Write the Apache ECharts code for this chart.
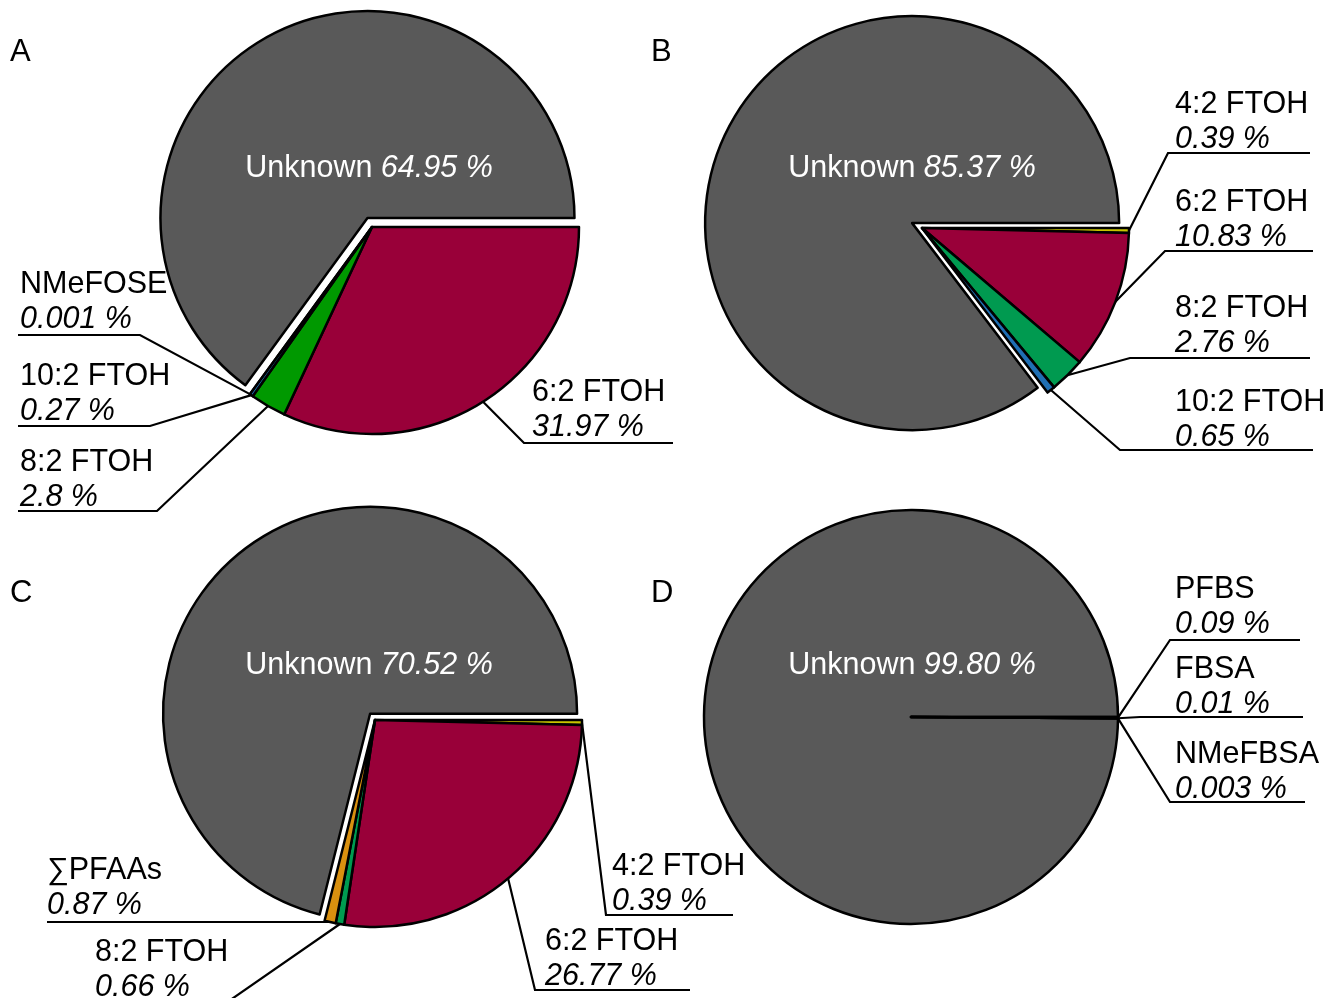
<!DOCTYPE html>
<html>
<head>
<meta charset="utf-8">
<script src="https://cdn.jsdelivr.net/npm/echarts@6/dist/echarts.min.js"></script>
<style>
  html, body { margin: 0; padding: 0; background: #fff; }
  #chart { width: 1330px; height: 998px; }
</style>
</head>
<body>
<div id="chart"></div>
<script>
// A
var namesA = ['6:2 FTOH', '8:2 FTOH', '10:2 FTOH', 'NMeFOSE', 'Unknown'];
var valuesA = [31.97, 2.8, 0.27, 0.001, 64.95];
var digitsA = [2, 1, 2, 3, 2];
// B
var namesB = ['4:2 FTOH', '6:2 FTOH', '8:2 FTOH', '10:2 FTOH', 'Unknown'];
var valuesB = [0.39, 10.83, 2.76, 0.65, 85.37];
var digitsB = [2, 2, 2, 2, 2];
// C
var namesC = ['4:2 FTOH', '6:2 FTOH', '8:2 FTOH', '∑PFAAs', 'Unknown'];
var valuesC = [0.39, 26.77, 0.66, 0.87, 70.52];
var digitsC = [2, 2, 2, 2, 2];
// D
var namesD = ['PFBS', 'FBSA', 'NMeFBSA', 'Unknown'];
var valuesD = [0.09, 0.01, 0.003, 99.80];
var digitsD = [2, 2, 3, 2];

var colorOf = {
  'Unknown': '#595959',
  '4:2 FTOH': '#c8c400',
  '6:2 FTOH': '#990039',
  '8:2 FTOH': '#009a50',
  '10:2 FTOH': '#1f6fb4',
  'NMeFOSE': '#303030',
  '∑PFAAs': '#d9900f',
  'PFBS': '#000',
  'FBSA': '#000',
  'NMeFBSA': '#000'
};

var font = 'Liberation Sans, Arial, sans-serif';
var fs = 30.5;

// label boxes: [textX, textY, lineX0, lineY, lineX1]
var boxesA = [[532, 375, 524, 443, 673], [20, 445, 157, 511, 18], [20, 359, 150, 426, 18], [20, 267, 140, 335, 18]];
var boxesB = [[1175, 87, 1168, 153, 1310], [1175, 185, 1165, 251, 1313], [1175, 291, 1130, 358, 1310], [1175, 385, 1120, 450, 1313]];
var boxesC = [[612, 849, 606, 915, 733], [545, 924, 535, 990, 690], [95, 935, 226, 1003, 95], [47, 853, 330, 922, 47]];
var boxesD = [[1175, 572, 1170, 640, 1300], [1175, 652, 1140, 717, 1303], [1175, 737, 1170, 802, 1305]];

var rich = {
  n: { fontSize: fs, lineHeight: 35, fontFamily: font, color: '#000' },
  v: { fontSize: fs, lineHeight: 35, fontFamily: font, color: '#000', fontStyle: 'italic' },
  u: { fontSize: fs, lineHeight: 35, fontFamily: font, color: '#fff' },
  ui: { fontSize: fs, lineHeight: 35, fontFamily: font, color: '#fff', fontStyle: 'italic' }
};

function basePie(center) {
  return {
    type: 'pie',
    center: center,
    radius: 207,
    startAngle: 0,
    clockwise: true,
    avoidLabelOverlap: false,
    silent: true,
    itemStyle: { borderColor: '#000', borderWidth: 2.5 },
    label: { show: true, rich: rich },
    labelLine: { show: true, length: 10, length2: 10, lineStyle: { color: '#000', width: 2.2 } }
  };
}

// two pies per panel: the Unknown slice pulled out along its bisector, the rest in place
function makePanel(names, values, digits, center, offset, boxes, unknownAt, greenA) {
  var total = values.reduce(function (s, v) { return s + v; }, 0);
  var ui = names.indexOf('Unknown');
  var before = 0;
  for (var k = 0; k < ui; k++) before += values[k];
  var mid = 2 * Math.PI * (before + values[ui] / 2) / total;
  var gc = [center[0] + offset * Math.cos(mid), center[1] + offset * Math.sin(mid)];

  var hidden = { color: 'transparent', borderWidth: 0 };

  var grey = basePie(gc);
  grey.data = names.map(function (n, i) {
    if (i !== ui) return { name: n, value: values[i], itemStyle: hidden, label: { show: false }, labelLine: { show: false } };
    return {
      name: n, value: values[i],
      itemStyle: { color: colorOf[n] },
      label: { position: 'inside', formatter: '{u|Unknown }{ui|' + values[i].toFixed(digits[i]) + ' %}' },
      labelLine: { show: false }
    };
  });
  grey.labelLayout = function (p) {
    return { x: unknownAt[0], y: unknownAt[1], align: 'center', verticalAlign: 'middle' };
  };

  var parts = basePie(center);
  parts.data = names.map(function (n, i) {
    if (i === ui) return { name: n, value: values[i], itemStyle: hidden, label: { show: false }, labelLine: { show: false } };
    var color = colorOf[n];
    if (greenA && n === '8:2 FTOH') color = '#009900';
    return {
      name: n, value: values[i],
      itemStyle: { color: color },
      label: { position: 'outside', formatter: '{n|' + n + '}\n{v|' + values[i].toFixed(digits[i]) + ' %}' }
    };
  });
  parts.labelLayout = function (p) {
    var b = boxes[p.dataIndex];
    if (!b) return {};
    var a = p.labelLinePoints ? p.labelLinePoints[0] : [b[2], b[3]];
    return {
      x: b[0], y: b[1], align: 'left', verticalAlign: 'top',
      labelLinePoints: [a, [b[2], b[3]], [b[4], b[3]]]
    };
  };
  return [grey, parts];
}

var chart = echarts.init(document.getElementById('chart'));

function letter(t, x, y) {
  return { type: 'text', left: x, top: y, style: { text: t, fontSize: 31, fontFamily: font, fill: '#000' } };
}

var option = {
  animation: false,
  backgroundColor: '#fff',
  graphic: [letter('A', 10, 37), letter('B', 651, 37), letter('C', 10, 578), letter('D', 651, 578)],
  series: [].concat(
    makePanel(namesA, valuesA, digitsA, [372, 227], 10, boxesA, [369, 169], true),
    makePanel(namesB, valuesB, digitsB, [922, 228], 11, boxesB, [912, 169]),
    makePanel(namesC, valuesC, digitsC, [375, 720], 8, boxesC, [369, 666]),
    makePanel(namesD, valuesD, digitsD, [911, 717], 0, boxesD, [912, 666])
  )
};

chart.setOption(option);
</script>
</body>
</html>
